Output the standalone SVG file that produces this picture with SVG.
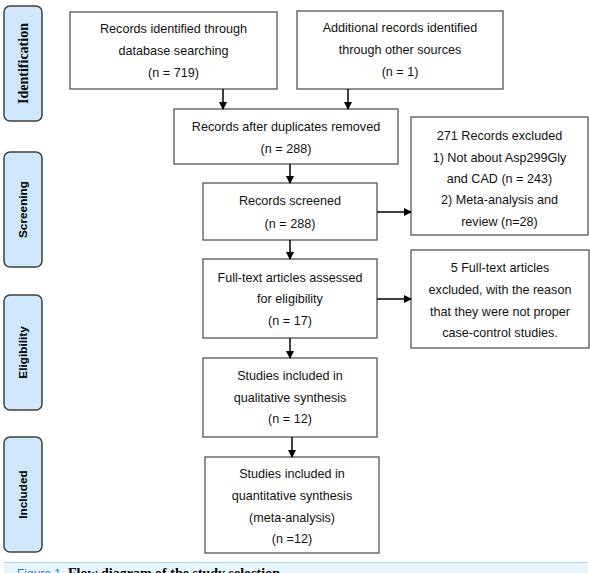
<svg xmlns="http://www.w3.org/2000/svg" width="590" height="573" viewBox="0 0 590 573">
<defs>
<marker id="ah" markerWidth="8" markerHeight="8" refX="7" refY="4" orient="auto" markerUnits="userSpaceOnUse">
<path d="M0,0 L8,4 L0,8 Z" fill="#000"/>
</marker>
</defs>
<style>
.box{fill:#fff;stroke:#555;stroke-width:1.3}
.lab{fill:#cfe7fb;stroke:#3f3f3f;stroke-width:1.5}
.t{font-family:"Liberation Sans",Arial,sans-serif;font-size:12.6px;fill:#111;text-anchor:middle}
.ls{font-family:"Liberation Sans",Arial,sans-serif;font-size:11.8px;font-weight:bold;fill:#000;text-anchor:middle}
.lserif{font-family:"Liberation Serif","Times New Roman",serif;font-size:14px;font-weight:bold;fill:#000;text-anchor:middle}
.c{stroke:#000;stroke-width:1.5;fill:none;marker-end:url(#ah)}
</style>
<rect width="590" height="573" fill="#fff"/>

<g id="label-identification"><rect class="lab" x="4" y="6" width="38" height="115" rx="6"/><text class="lserif" transform="translate(28,63.5) rotate(-90)">Identification</text></g>
<g id="label-screening"><rect class="lab" x="4" y="152" width="38" height="115" rx="6"/><text class="ls" transform="translate(27,209.5) rotate(-90)">Screening</text></g>
<g id="label-eligibility"><rect class="lab" x="4" y="295" width="38" height="115" rx="6"/><text class="ls" transform="translate(27,352.5) rotate(-90)">Eligibility</text></g>
<g id="label-included"><rect class="lab" x="4" y="437" width="38" height="115" rx="6"/><text class="ls" transform="translate(27,494.5) rotate(-90)">Included</text></g>

<g id="n-db"><rect class="box" x="70" y="12" width="207" height="77"/>
<text class="t" x="173.5" y="32.5">Records identified through</text>
<text class="t" x="173.5" y="54.5">database searching</text>
<text class="t" x="173.5" y="76.5">(n = 719)</text></g>

<g id="n-other"><rect class="box" x="297" y="11" width="206" height="78"/>
<text class="t" x="400" y="31.5">Additional records identified</text>
<text class="t" x="400" y="53.5">through other sources</text>
<text class="t" x="400" y="76">(n = 1)</text></g>

<g id="n-dup"><rect class="box" x="174" y="109" width="224" height="55"/>
<text class="t" x="286" y="130.5">Records after duplicates removed</text>
<text class="t" x="286" y="152.5">(n = 288)</text></g>

<g id="n-screened"><rect class="box" x="203" y="183" width="174" height="57"/>
<text class="t" x="290" y="204.5">Records screened</text>
<text class="t" x="290" y="227.5">(n = 288)</text></g>

<g id="n-excl1"><rect class="box" x="411" y="117" width="177" height="118"/>
<text class="t" x="499.5" y="139.5">271 Records excluded</text>
<text class="t" x="499.5" y="161.5">1) Not about Asp299Gly</text>
<text class="t" x="499.5" y="182.5">and CAD (n = 243)</text>
<text class="t" x="499.5" y="203.5">2) Meta-analysis and</text>
<text class="t" x="499.5" y="225.5">review (n=28)</text></g>

<g id="n-fulltext"><rect class="box" x="203" y="259" width="174" height="79"/>
<text class="t" x="290" y="281.5">Full-text articles assessed</text>
<text class="t" x="290" y="302.5">for eligibility</text>
<text class="t" x="290" y="324.5">(n = 17)</text></g>

<g id="n-excl2"><rect class="box" x="411" y="250" width="178" height="98"/>
<text class="t" x="500" y="271.5">5 Full-text articles</text>
<text class="t" x="500" y="293.5">excluded, with the reason</text>
<text class="t" x="500" y="315.5">that they were not proper</text>
<text class="t" x="500" y="336.5">case-control studies.</text></g>

<g id="n-qual"><rect class="box" x="203" y="358" width="174" height="79"/>
<text class="t" x="290" y="379.5">Studies included in</text>
<text class="t" x="290" y="401.5">qualitative synthesis</text>
<text class="t" x="290" y="422.5">(n = 12)</text></g>

<g id="n-quant"><rect class="box" x="205" y="457" width="174" height="96"/>
<text class="t" x="292" y="477.5">Studies included in</text>
<text class="t" x="292" y="499.5">quantitative synthesis</text>
<text class="t" x="292" y="521.5">(meta-analysis)</text>
<text class="t" x="292" y="542.5">(n =12)</text></g>

<g id="connectors">
<line class="c" x1="223" y1="89" x2="223" y2="109"/>
<line class="c" x1="348" y1="89" x2="348" y2="109"/>
<line class="c" x1="290" y1="164" x2="290" y2="183"/>
<line class="c" x1="377" y1="212" x2="411" y2="212"/>
<line class="c" x1="290" y1="240" x2="290" y2="259"/>
<line class="c" x1="377" y1="299" x2="411" y2="299"/>
<line class="c" x1="290" y1="338" x2="290" y2="358"/>
<line class="c" x1="292" y1="437" x2="292" y2="457"/>
</g>

<g id="caption">
<rect x="4" y="562" width="584" height="12" fill="#e9f5fd"/>
<line x1="4" y1="562.5" x2="588" y2="562.5" stroke="#a9d6f2" stroke-width="1"/>
<text x="17" y="578" font-family="Liberation Sans,Arial,sans-serif" font-size="12px" fill="#2f7fc1">Figure 1.</text>
<text x="68" y="578" font-family="Liberation Serif,Times New Roman,serif" font-size="14px" font-weight="bold" fill="#000">Flow diagram of the study selection.</text>
</g>
</svg>
